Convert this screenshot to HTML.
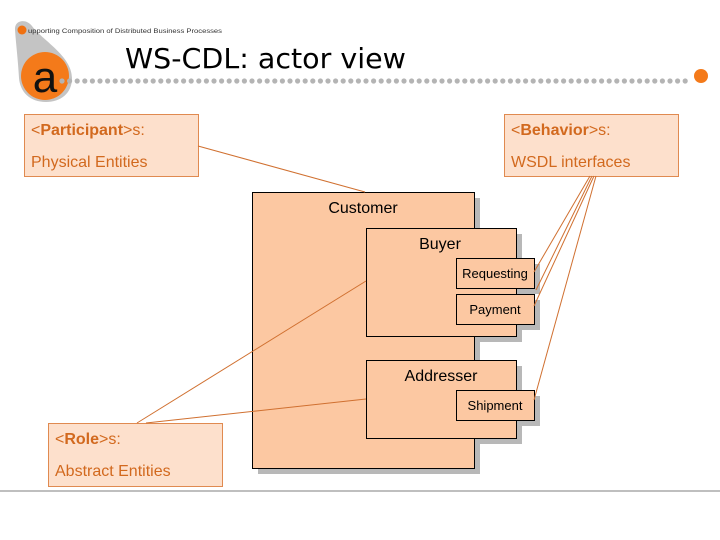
<!DOCTYPE html>
<html><head><meta charset="utf-8"><style>
html,body{margin:0;padding:0;background:#fff;}
svg{display:block;font-family:"Liberation Sans",Arial,sans-serif;}
</style></head><body>
<svg width="720" height="540" viewBox="0 0 720 540" xmlns="http://www.w3.org/2000/svg">
<!-- logo -->
<path d="M15,30 C14,20 26,18 32,26 C42,40 72,56 72,78 C72,94 60,102 46,102 C30,102 20,92 19,78 C18,60 16,44 15,30 Z" fill="#c4c4c4"/>
<circle cx="22" cy="30" r="4.5" fill="#f07010"/>
<circle cx="45" cy="76" r="24" fill="#f47a1a"/>
<text x="45" y="92" font-size="44" text-anchor="middle" fill="#111" font-family="Liberation Sans,sans-serif">a</text>
<text x="28" y="33" font-size="6.5" fill="#333" textLength="194" lengthAdjust="spacingAndGlyphs">upporting  Composition of  Distributed  Business  Processes</text>
<text x="125" y="68" font-size="28" fill="#000" font-family="DejaVu Sans,sans-serif" textLength="281" lengthAdjust="spacingAndGlyphs">WS-CDL: actor view</text>
<g fill="#b4b4b4" id="dots"></g>
<circle cx="701" cy="76" r="7" fill="#f47a1a"/>
<line x1="0" y1="491" x2="720" y2="491" stroke="#999" stroke-width="1.2"/>

<!-- notes -->
<g fill="#fde0cc" stroke="#e08a50" stroke-width="1">
<rect x="24.5" y="114.5" width="174" height="62"/>
<rect x="504.5" y="114.5" width="174" height="62"/>
<rect x="48.5" y="423.5" width="174" height="63"/>
</g>
<g fill="#d2691e" font-size="16">
<text x="31" y="135">&lt;<tspan font-weight="bold">Participant</tspan>&gt;s:</text>
<text x="31" y="167">Physical Entities</text>
<text x="511" y="135">&lt;<tspan font-weight="bold">Behavior</tspan>&gt;s:</text>
<text x="511" y="167">WSDL interfaces</text>
<text x="55" y="444">&lt;<tspan font-weight="bold">Role</tspan>&gt;s:</text>
<text x="55" y="476">Abstract Entities</text>
</g>

<!-- shadows -->
<g fill="#b8b8b8">
<rect x="258" y="198" width="222" height="276"/>
<rect x="372" y="234" width="150" height="108"/>
<rect x="462" y="264" width="78" height="30"/>
<rect x="462" y="300" width="78" height="30"/>
<rect x="372" y="366" width="150" height="78"/>
<rect x="462" y="396" width="78" height="30"/>
</g>
<!-- boxes -->
<g fill="#fcc8a2" stroke="#000" stroke-width="1">
<rect x="252.5" y="192.5" width="222" height="276"/>
<rect x="366.5" y="228.5" width="150" height="108"/>
<rect x="456.5" y="258.5" width="78" height="30"/>
<rect x="456.5" y="294.5" width="78" height="30"/>
<rect x="366.5" y="360.5" width="150" height="78"/>
<rect x="456.5" y="390.5" width="78" height="30"/>
</g>
<g fill="#000" text-anchor="middle">
<text x="363" y="213" font-size="16">Customer</text>
<text x="440" y="249" font-size="16">Buyer</text>
<text x="495" y="278" font-size="13">Requesting</text>
<text x="495" y="314" font-size="13">Payment</text>
<text x="441" y="381" font-size="16">Addresser</text>
<text x="495" y="410" font-size="13">Shipment</text>
</g>

<!-- connectors -->
<g stroke="#d07030" stroke-width="1" fill="none">
<line x1="198" y1="146" x2="365" y2="192"/>
<line x1="590" y1="176" x2="534" y2="272"/>
<line x1="592" y1="176" x2="536" y2="290"/>
<line x1="594" y1="176" x2="534" y2="306"/>
<line x1="596" y1="176" x2="534" y2="400"/>
<line x1="137" y1="423" x2="366" y2="281"/>
<line x1="146" y1="423" x2="366" y2="399"/>
</g>
</svg>
<script>
var g=document.getElementById('dots');var s='';
for(var x=62;x<=690;x+=7.6){s+='<circle cx="'+x.toFixed(1)+'" cy="81" r="2.6"/>';}
g.innerHTML=s;
</script>
</body></html>
